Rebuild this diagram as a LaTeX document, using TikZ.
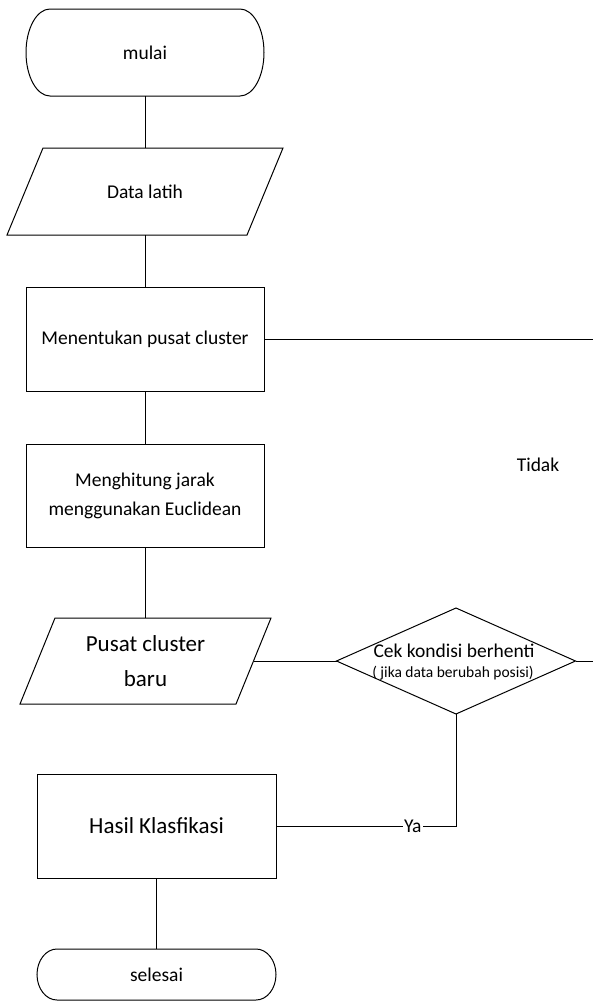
\documentclass[tikz,border=0pt]{standalone}
\usepackage{fontspec}
\setmainfont{Carlito}
\usetikzlibrary{shapes.geometric}
\newcommand\fnorm{\fontsize{19.5}{29}\selectfont}
\newcommand\fbig{\fontsize{23}{35}\selectfont}
\newcommand\fsmall{\fontsize{15.5}{22}\selectfont}
\begin{document}
\begin{tikzpicture}[x=1pt,y=-1pt,line width=1pt,
  every node/.style={inner sep=0pt,outer sep=0pt},
  procbox/.style={draw,rectangle,minimum width=238pt,minimum height=104pt,align=center,font=\fnorm},
  hidden/.style={rectangle,align=center},
  outline/.style={draw,line width=1pt,line join=miter},
  conn/.style={draw,line width=1pt},
  lbl/.style={font=\fnorm}]
\useasboundingbox (0,0) rectangle (593,1001);

% start terminal
\node[hidden,minimum width=238pt,minimum height=87pt,font=\fnorm] (start) at (145,52.5) {mulai};
\draw[outline] ([xshift=24pt]start.north west) -- ([xshift=-24pt]start.north east)
  arc[start angle=90,end angle=-90,x radius=24pt,y radius=43.5pt]
  -- ([xshift=24pt]start.south west)
  arc[start angle=270,end angle=90,x radius=24pt,y radius=43.5pt] -- cycle;

% data latih
\node[hidden,minimum width=240pt,minimum height=87pt,font=\fnorm] (data) at (145,191.5) {Data latih};
\draw[outline] ([xshift=18pt]data.north west) -- ([xshift=18pt]data.north east)
  -- ([xshift=-18pt]data.south east) -- ([xshift=-18pt]data.south west) -- cycle;

% process boxes
\node[procbox] (pusat) at (145,339) {Menentukan pusat cluster};
\node[procbox,minimum height=103pt] (jarak) at (145,495.5) {Menghitung jarak\\menggunakan Euclidean};

% new centre parallelogram
\node[hidden,minimum width=216pt,minimum height=86pt,font=\fbig] (baru) at (145.5,661) {Pusat cluster\\baru};
\draw[outline] ([xshift=17.5pt]baru.north west) -- ([xshift=17.5pt]baru.north east)
  -- ([xshift=-17.5pt]baru.south east) -- ([xshift=-17.5pt]baru.south west) -- cycle;

% decision
\node[draw,diamond,minimum width=239pt,minimum height=106pt] (cek) at (456,661) {};
\node[font=\fnorm] (cektxt) at (454,651) {Cek kondisi berhenti};
\node[font=\fsmall] (cekcond) at (453,673) {( jika data berubah posisi)};

% result
\node[procbox,minimum width=239pt,font=\fbig] (hasil) at (156.5,826) {Hasil Klasfikasi};

% end terminal
\node[hidden,minimum width=239pt,minimum height=51pt,font=\fnorm] (end) at (156.5,974.5) {selesai};
\draw[outline] ([xshift=20pt]end.north west) -- ([xshift=-20pt]end.north east)
  arc[start angle=90,end angle=-90,x radius=20pt,y radius=25.5pt]
  -- ([xshift=20pt]end.south west)
  arc[start angle=270,end angle=90,x radius=20pt,y radius=25.5pt] -- cycle;

% free ends at right edge
\coordinate (r1) at (593,339);
\coordinate (r2) at (593,661);
\coordinate (yaturn) at (456,826);

% connectors
\draw[conn] (start.south) -- (data.north);
\draw[conn] (data.south) -- (pusat.north);
\draw[conn] (pusat.south) -- (jarak.north);
\draw[conn] (jarak.south) -- (jarak.south |- baru.north);
\draw[conn] (baru.east) -- (cek.west);
\draw[conn] (pusat.east) -- (r1);
\draw[conn] (cek.east) -- (r2);
\draw[conn] (cek.south) -- (yaturn) -- (hasil.east)
  node[pos=0.24,fill=white,inner sep=1pt,font=\fnorm] (ya) {Ya};
\draw[conn] (hasil.south) -- (end.north);

% label Tidak
\node[lbl] (tidak) at (538,465) {Tidak};
\end{tikzpicture}
\end{document}
